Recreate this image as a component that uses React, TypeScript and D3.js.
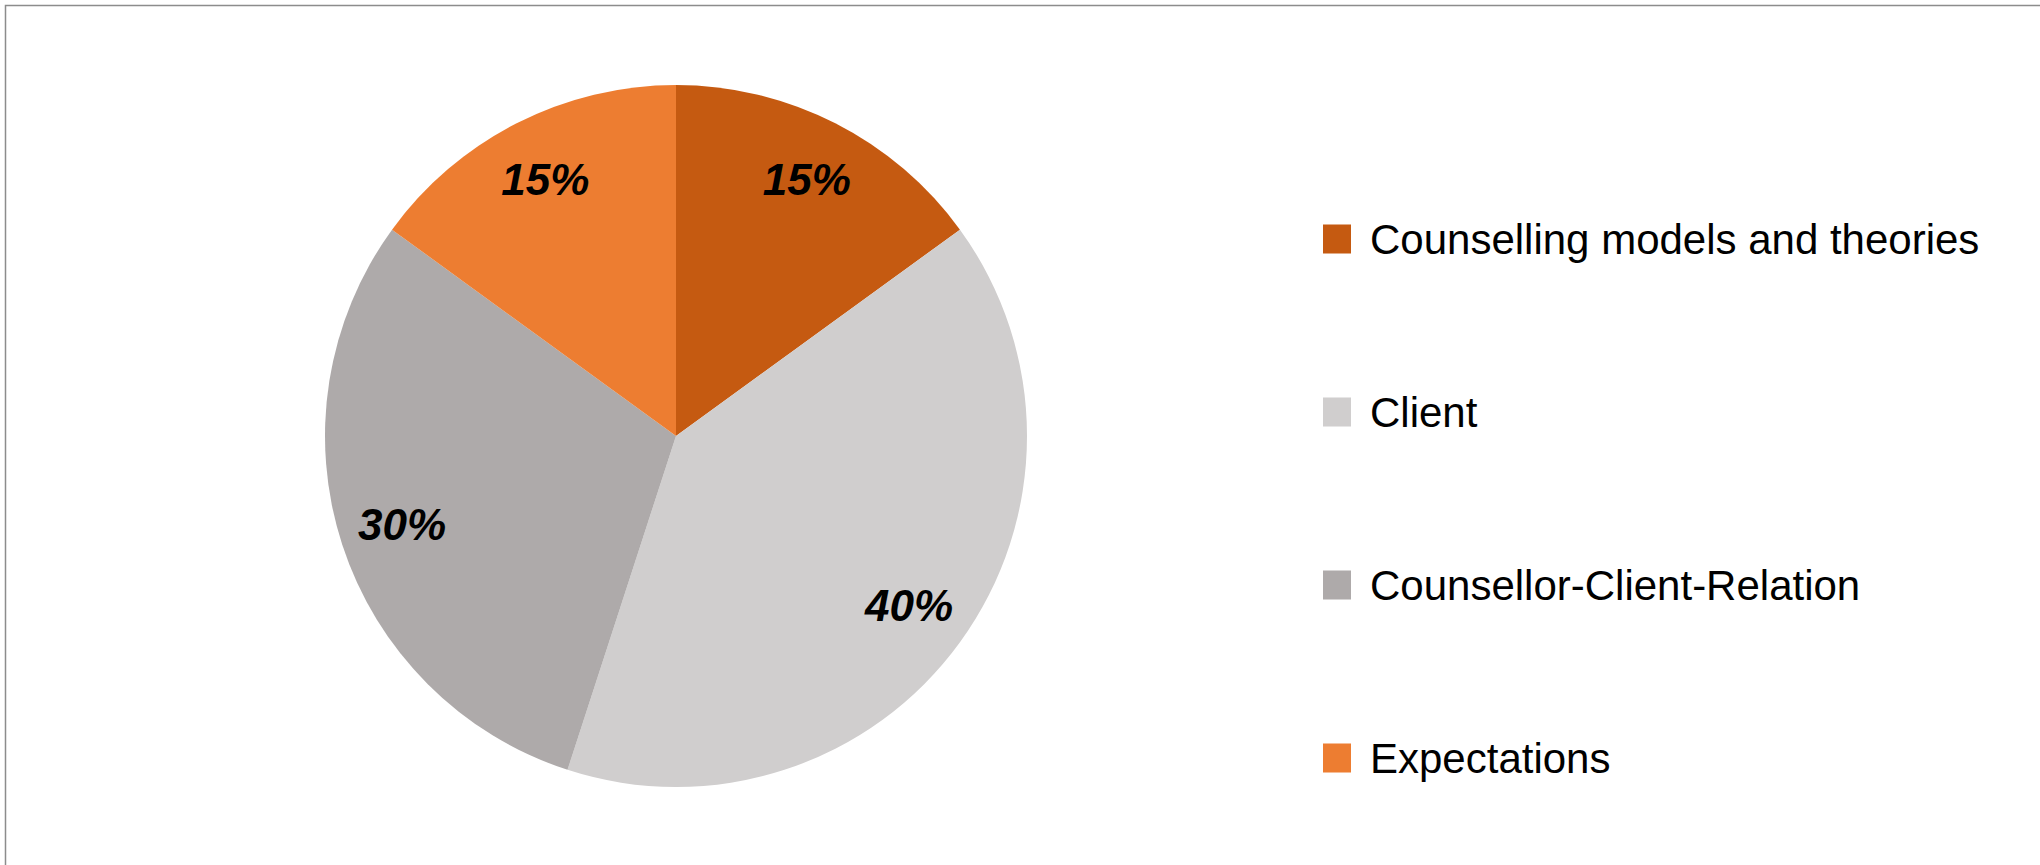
import React from "react";
import * as d3 from "d3";

const categories = [
  "Counselling models and theories",
  "Client",
  "Counsellor-Client-Relation",
  "Expectations",
];
const values = [15, 40, 30, 15];
const colors = ["#C55A11", "#D0CECE", "#AEAAAA", "#ED7D31"];

const W = 2040;
const H = 865;

export default function App() {
  const cx = 676;
  const cy = 436;
  const r = 351;
  const labelR = 288;

  const pie = d3
    .pie<number>()
    .sort(null)
    .value((d) => d)
    .startAngle(0)
    .endAngle(2 * Math.PI);
  const arcs = pie(values);
  const arc = d3.arc<d3.PieArcDatum<number>>().innerRadius(0).outerRadius(r);
  const labelArc = d3
    .arc<d3.PieArcDatum<number>>()
    .innerRadius(labelR)
    .outerRadius(labelR);
  const total = d3.sum(values);

  const legendY = d3
    .scalePoint<string>()
    .domain(categories)
    .range([239, 758]);

  return (
    <svg
      width={W}
      height={H}
      style={{ position: "absolute", left: 0, top: 0, background: "#fff" }}
      fontFamily="'Liberation Sans', Arial, sans-serif"
    >
      <rect x={0} y={0} width={W} height={H} fill="#fff" />
      <rect
        x={5.5}
        y={5.5}
        width={W + 20}
        height={H + 20}
        fill="none"
        stroke="#8c8c8c"
        strokeWidth={1.5}
      />
      <g transform={`translate(${cx},${cy})`}>
        {arcs.map((a, i) => (
          <path key={i} d={arc(a) || ""} fill={colors[i]} />
        ))}
        {arcs.map((a, i) => {
          const [x, y] = labelArc.centroid(a);
          return (
            <text
              key={"l" + i}
              x={x}
              y={y}
              textAnchor="middle"
              dominantBaseline="central"
              fontSize={44}
              fontWeight="bold"
              fontStyle="italic"
              fill="#000"
            >
              {Math.round((values[i] / total) * 100) + "%"}
            </text>
          );
        })}
      </g>
      <g>
        {categories.map((c, i) => {
          const y = legendY(c) as number;
          return (
            <g key={c}>
              <rect x={1323} y={y - 14.5} width={28} height={29} fill={colors[i]} />
              <text
                x={1370}
                y={y}
                dominantBaseline="central"
                fontSize={42}
                fill="#000"
              >
                {c}
              </text>
            </g>
          );
        })}
      </g>
    </svg>
  );
}
